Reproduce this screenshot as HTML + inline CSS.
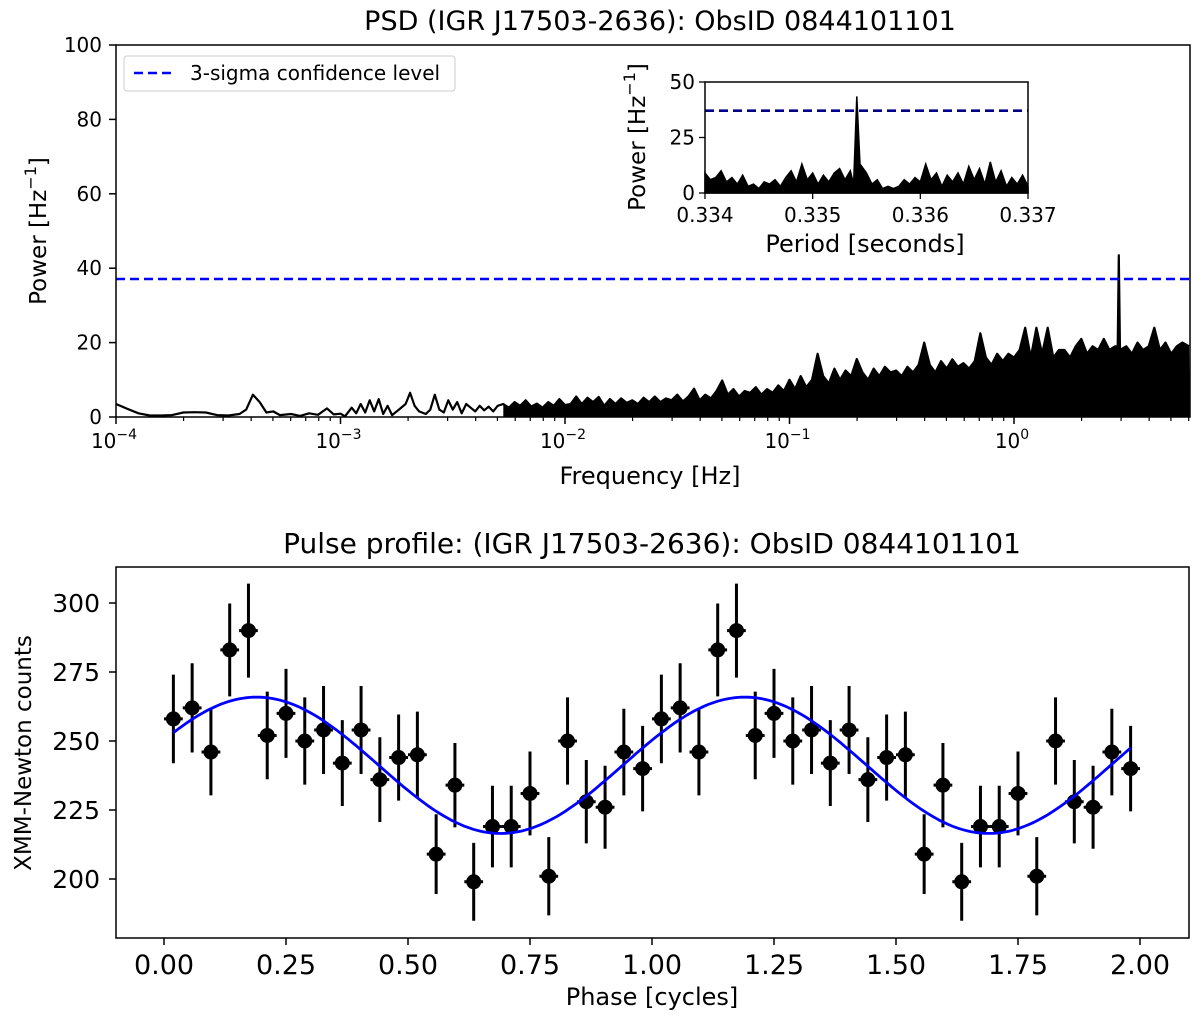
<!DOCTYPE html>
<html><head><meta charset="utf-8"><style>
html,body{margin:0;padding:0;background:#fff;}
svg{display:block;font-family:"DejaVu Sans","Liberation Sans",sans-serif;}
</style></head><body>
<svg id="fig" width="1200" height="1020" viewBox="0 0 1200 1020" xmlns="http://www.w3.org/2000/svg">
<rect width="1200" height="1020" fill="#fff"/>
<text x="660" y="30" font-size="27" text-anchor="middle">PSD (IGR J17503-2636): ObsID 0844101101</text>
<text x="652" y="553" font-size="28" text-anchor="middle">Pulse profile: (IGR J17503-2636): ObsID 0844101101</text>
<g id="psd"></g>
<g id="inset"></g>
<g id="pulse"></g>
</svg>
<script>
// ---------- PSD data ----------
const psdLowLogFreq = [-4,-3.95,-3.9,-3.85,-3.8,-3.75,-3.7,-3.65,-3.6,-3.55,-3.5,-3.45,-3.42,-3.39,-3.36,-3.33,-3.3,-3.27,-3.22,-3.18,-3.14,-3.1,-3.06,-3.03,-3,-2.98,-2.95,-2.93,-2.91,-2.89,-2.87,-2.85,-2.83,-2.81,-2.79,-2.77,-2.74,-2.71,-2.69,-2.67,-2.65,-2.62,-2.6,-2.58,-2.56,-2.54,-2.52,-2.5,-2.48,-2.46,-2.44,-2.42,-2.4,-2.38,-2.36,-2.34,-2.32,-2.3];
const psdLowPower = [3.5,2.2,1.0,0.4,0.4,0.5,1.2,1.3,1.2,0.5,0.4,0.8,2,6,4,1.2,1.5,0.5,0.8,0.3,1,0.6,2.3,0.7,0.9,0.2,2.5,1,3.5,1.2,4.5,1.5,4.8,0.8,3,0.5,2,3.5,6.5,3,1.5,0.8,2,6,2,1.2,4.5,2,4,1,3.5,2.5,1.5,3,1.8,2.8,1.5,3];
const psdHighLogFreq = [-2.275,-2.25,-2.225,-2.2,-2.175,-2.15,-2.125,-2.1,-2.075,-2.05,-2.025,-2.0,
-1.975,-1.95,-1.925,-1.9,-1.875,-1.85,-1.825,-1.8,-1.775,-1.75,
-1.725,-1.7,-1.675,-1.65,-1.625,-1.6,-1.575,-1.55,-1.525,-1.5,-1.475,-1.45,-1.425,
-1.4,-1.375,-1.35,-1.325,-1.3,-1.275,-1.25,-1.225,-1.2,-1.175,-1.15,-1.125,-1.1,-1.075,-1.05,-1.025,
-1,-0.975,-0.95,-0.925,-0.9,-0.875,
-0.85,-0.825,-0.8,-0.775,-0.75,-0.725,-0.7,
-0.675,-0.65,-0.625,-0.6,-0.575,-0.55,-0.525,-0.5,-0.475,-0.45,-0.425,-0.4,
-0.375,-0.35,-0.325,-0.3,-0.275,-0.25,-0.225,-0.2,-0.175,-0.15,
-0.125,-0.1,-0.075,-0.05,-0.025,0,0.025,0.05,0.075,0.1,0.125,0.15,0.175,0.2,
0.225,0.25,0.275,0.3,0.325,0.35,0.375,0.4,0.425,0.45,
0.462,0.467,0.472,
0.5,0.525,0.55,0.575,0.6,0.625,0.65,0.675,0.7,0.725,0.75,0.78];
const psdHighPower = [3.5,2.5,4,3,4.5,2.8,3.6,2.5,4,3,4.8,3.2,
3.5,5.5,3.5,5.2,4,5.4,3,4.8,3.5,5,
3.8,4.5,3.5,5.2,4,5.5,4,5,4.5,6,4.2,5.5,7.6,
4.5,6,5,7,9.8,6,7.5,5.5,7,6.5,8,6,7.5,6.5,8.5,7,
10,7.5,11,8,10,17,
11,9,13,10,12.5,11,15.6,
12,10,13,11,13.5,12,12.5,11,13.5,12,14,20,
14,12,15,13,15.5,13.5,14.5,13,15,22.5,
16,14,17,15,17,16,18,24,16,24,17,24,16,18,
18,16,19,21,17,19,18,21,18,19,
19,43.5,18,
19,17,20,18,19,24,18,20,17,19,20,19];
const sigmaLevel = [37.1];
const psdYTicks = [0,20,40,60,80,100];
const psdXTickExp = [-4,-3,-2,-1,0];

// ---------- Inset data ----------
const insetPeriod = [0.334,0.33405,0.3341,0.33415,0.3342,0.33425,0.3343,0.33435,0.3344,0.33445,0.3345,0.33455,0.3346,0.33465,0.3347,0.33475,0.3348,0.33485,0.3349,0.33495,0.335,0.33505,0.3351,0.33515,0.3352,0.33525,0.3353,0.33535,0.33538,0.33541,0.33544,0.3355,0.33555,0.3356,0.33565,0.3357,0.33575,0.3358,0.33585,0.3359,0.33595,0.336,0.33605,0.3361,0.33615,0.3362,0.33625,0.3363,0.33635,0.3364,0.33645,0.3365,0.33655,0.3366,0.33665,0.3367,0.33675,0.3368,0.33685,0.3369,0.33695,0.337];
const insetPower = [9,6,7,10,5,7,4,8,3,4,2,5,4,6,3,7,10,5,13,6,9,4,8,5,9,11,6,10,4,43.5,13,9,4,6,2,3,2,3,6,4,7,5,13,6,9,3,8,5,9,4,12,6,11,4,14,5,10,3,7,4,8,3];
const insetXTicks = [0.334,0.335,0.336,0.337];
const insetYTicks = [0,25,50];

// ---------- Pulse profile data ----------
const pulseCounts = [258,262,246,283,290,252,260,250,254,242,254,236,244,245,209,234,199,219,219,231,201,250,228,226,246,240];
const pulseXTicks = [0,0.25,0.5,0.75,1,1.25,1.5,1.75,2];
const pulseYTicks = [200,225,250,275,300];
const fitParams = [241.2,24.7,0.19]; // mean, amplitude, phase of max

const NS='http://www.w3.org/2000/svg';
function mk(parent,tag,attrs){const e=document.createElementNS(NS,tag);for(const k in attrs)e.setAttribute(k,attrs[k]);parent.appendChild(e);return e;}
function txt(parent,x,y,s,size,anchor,extra){const t=mk(parent,'text',Object.assign({x:x,y:y,'font-size':size,'text-anchor':anchor||'middle'},extra||{}));t.textContent=s;return t;}

// ===== PSD panel =====
(function(){
const g=document.getElementById('psd');
const L=116,R=1190,T=45,B=417;
const xs=lf=>L+(lf+4)*224.5;
const ys=v=>B-v*(B-T)/100;
for(let e=-4;e<=0;e++){for(let m=2;m<=9;m++){const lf=e+Math.log10(m);const x=xs(lf);if(x>R)continue;
 const t=mk(g,'line',{x1:x,x2:x,y1:B,y2:B+4,stroke:'#000','stroke-width':1.2});
 
 }}
psdXTickExp.forEach(e=>{const x=xs(e);
 const t=mk(g,'line',{x1:x,x2:x,y1:B,y2:B+7,stroke:'#000','stroke-width':1.5});
 
 
 const lb=mk(g,'text',{x:x-2,y:B+31,'font-size':20,'text-anchor':'middle'});
 
 
 lb.textContent='10';
 const sp=mk(lb,'tspan',{dy:-9,'font-size':14});sp.textContent='\u2212'+Math.abs(e);
 if(e===0) sp.textContent='0';
});
psdYTicks.forEach(v=>{const y=ys(v);
 const t=mk(g,'line',{x1:L-7,x2:L,y1:y,y2:y,stroke:'#000','stroke-width':1.5});
 
 
 const lb=txt(g,L-14,y+7,String(v),20,'end');
 
 
});
let pts=psdHighLogFreq.map((lf,i)=>xs(lf).toFixed(1)+','+ys(psdHighPower[i]).toFixed(1));
const fill=mk(g,'polygon',{points:xs(psdHighLogFreq[0]).toFixed(1)+','+B+' '+pts.join(' ')+' '+R+','+B,fill:'#000'});


let lp=psdLowLogFreq.map((lf,i)=>xs(lf).toFixed(1)+','+ys(psdLowPower[i]).toFixed(1)).concat(pts);
const line=mk(g,'polyline',{points:lp.join(' '),fill:'none',stroke:'#000','stroke-width':2.2,'stroke-linejoin':'round'});


const sl=mk(g,'line',{x1:L,x2:R,y1:ys(sigmaLevel[0]),y2:ys(sigmaLevel[0]),stroke:'#0000ff','stroke-width':2.4,'stroke-dasharray':'9,5'});


const fr=mk(g,'rect',{x:L,y:T,width:R-L,height:B-T,fill:'none',stroke:'#000','stroke-width':1.5});


const xl=txt(g,650,B+67,'Frequency [Hz]',24);


const yl=mk(g,'text',{x:0,y:0,'font-size':23,'text-anchor':'middle',transform:'translate(46,231) rotate(-90)'});


yl.textContent='Power [Hz';const s1=mk(yl,'tspan',{dy:-10,'font-size':16});s1.textContent='\u22121';const s2=mk(yl,'tspan',{dy:10});s2.textContent=']';
const lg=mk(g,'g',{});


mk(lg,'rect',{x:124,y:56,width:331,height:35,rx:3,fill:'#fff',stroke:'#ccc','stroke-width':1});
mk(lg,'line',{x1:134,x2:176,y1:73,y2:73,stroke:'#0000ff','stroke-width':2.4,'stroke-dasharray':'9,5'});
const lt=txt(lg,190,80,'3-sigma confidence level',20,'start');


})();

// ===== Inset =====
(function(){
const g=document.getElementById('inset');
const L=705,R=1028,T=82,B=193;
const xs=p=>L+(p-0.334)/0.003*(R-L);
const ys=v=>B-v/50*(B-T);
mk(g,'rect',{x:L,y:T,width:R-L,height:B-T,fill:'#fff'});
let pts=insetPeriod.map((p,i)=>xs(p).toFixed(1)+','+ys(insetPower[i]).toFixed(1));
const a=mk(g,'polygon',{points:L+','+B+' '+pts.join(' ')+' '+R+','+B,fill:'#000',stroke:'#000','stroke-width':1.5});


const sl=mk(g,'line',{x1:L,x2:R,y1:ys(sigmaLevel[0]),y2:ys(sigmaLevel[0]),stroke:'#00008b','stroke-width':2.6,'stroke-dasharray':'9,5'});


mk(g,'rect',{x:L,y:T,width:R-L,height:B-T,fill:'none',stroke:'#000','stroke-width':1.5});
insetXTicks.forEach(p=>{const x=xs(p);
 mk(g,'line',{x1:x,x2:x,y1:B,y2:B+6,stroke:'#000','stroke-width':1.3});
 const t=txt(g,x,B+29,p.toFixed(3),20);
 
 });
insetYTicks.forEach(v=>{const y=ys(v);
 mk(g,'line',{x1:L-6,x2:L,y1:y,y2:y,stroke:'#000','stroke-width':1.3});
 const t=txt(g,L-10,y+7,String(v),20,'end');
 
 });
const xl=txt(g,865,252,'Period [seconds]',24);


const yl=mk(g,'text',{x:0,y:0,'font-size':23,'text-anchor':'middle',transform:'translate(645,137) rotate(-90)'});


yl.textContent='Power [Hz';const s1=mk(yl,'tspan',{dy:-10,'font-size':16});s1.textContent='\u22121';const s2=mk(yl,'tspan',{dy:10});s2.textContent=']';
})();

// ===== Pulse profile =====
(function(){
const g=document.getElementById('pulse');
const L=116,R=1189,T=567,B=938;
const xs=p=>164+p*488;
const ys=v=>741-(v-250)*2.76;
const fr=mk(g,'rect',{x:L,y:T,width:R-L,height:B-T,fill:'none',stroke:'#000','stroke-width':1.5});


pulseXTicks.forEach(p=>{const x=xs(p);
 mk(g,'line',{x1:x,x2:x,y1:B,y2:B+7,stroke:'#000','stroke-width':1.5});
 const t=txt(g,x,B+36,p.toFixed(2),27);
 
 });
pulseYTicks.forEach(v=>{const y=ys(v);
 mk(g,'line',{x1:L-7,x2:L,y1:y,y2:y,stroke:'#000','stroke-width':1.5});
 const t=txt(g,L-16,y+9,String(v),25,'end');
 
 });
const xl=txt(g,652,1005,'Phase [cycles]',24);


const yl=txt(g,0,0,'XMM-Newton counts',23,'middle',{transform:'translate(31,753) rotate(-90)'});


const n=pulseCounts.length;
for(let c=0;c<2;c++){pulseCounts.forEach((v,i)=>{
 const ph=c+(i+0.5)/n;const x=xs(ph),y=ys(v),e=Math.sqrt(v);
 const pg=mk(g,'g',{});
 
 
 mk(pg,'line',{x1:x,x2:x,y1:ys(v+e),y2:ys(v-e),stroke:'#000','stroke-width':3});
 mk(pg,'line',{x1:xs(ph-0.5/n),x2:xs(ph+0.5/n),y1:y,y2:y,stroke:'#000','stroke-width':3});
 mk(pg,'circle',{cx:x,cy:y,r:7.5,fill:'#000'});
});}
const first=0.5/n,last=2-0.5/n;let d='';
for(let k=0;k<=300;k++){const ph=first+(last-first)*k/300;
 const v=fitParams[0]+fitParams[1]*Math.cos(2*Math.PI*(ph-fitParams[2]));
 d+=(k?'L':'M')+xs(ph).toFixed(1)+','+ys(v).toFixed(1);}
const fit=mk(g,'path',{d:d,fill:'none',stroke:'#0000ff','stroke-width':2.8});


})();
</script>
</body></html>
